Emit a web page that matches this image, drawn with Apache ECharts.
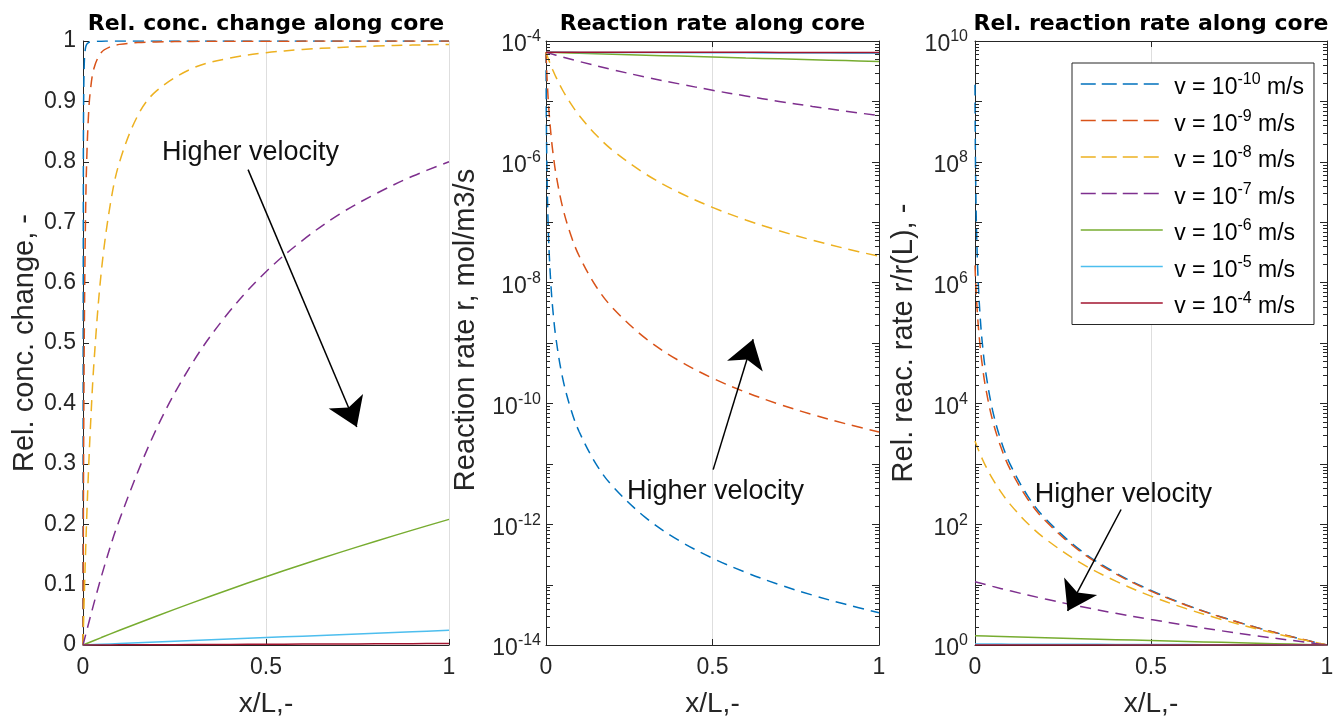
<!DOCTYPE html>
<html><head><meta charset="utf-8">
<script src="https://cdn.jsdelivr.net/npm/echarts@6/dist/echarts.min.js"></script>
<style>html,body{margin:0;padding:0;background:#fff}#c{width:1342px;height:723px}</style>
</head><body><div id="c"></div>
<script>
// ---------- data ----------
const seriesNames = ['v = 1e-10 m/s','v = 1e-9 m/s','v = 1e-8 m/s','v = 1e-7 m/s','v = 1e-6 m/s','v = 1e-5 m/s','v = 1e-4 m/s'];
const seriesExps = ['-10','-9','-8','-7','-6','-5','-4'];

const xFine = [0, 0.001, 0.002, 0.004, 0.007, 0.01, 0.015, 0.02, 0.03, 0.05, 0.075, 0.1, 0.15, 0.2, 0.3, 0.4, 0.5, 0.6, 0.7, 0.8, 0.9, 1];
const xCoarse = [0, 0.05, 0.1, 0.2, 0.3, 0.4, 0.5, 0.6, 0.7, 0.8, 0.9, 1];

// Panel 1: relative concentration change
const concV10 = [0, 0.8, 0.917, 0.972, 0.989, 0.9944, 0.9974, 0.9985, 0.9993, 0.9997, 0.9999, 0.99994, 0.99997, 0.99998, 0.99999, 1, 1, 1, 1, 1, 1, 1];
const concV9  = [0, 0.208, 0.357, 0.552, 0.7125, 0.8, 0.877, 0.917, 0.955, 0.981, 0.9905, 0.9944, 0.9974, 0.9985, 0.9993, 0.9996, 0.9997, 0.9998, 0.9999, 0.9999, 0.99992, 0.99994];
const concV8  = [0, 0.0243, 0.0477, 0.092, 0.153, 0.208, 0.288, 0.357, 0.468, 0.618, 0.731, 0.8, 0.877, 0.917, 0.955, 0.9717, 0.9806, 0.9859, 0.9893, 0.9916, 0.9932, 0.9944];
const concV7  = [0, 0.113, 0.208, 0.357, 0.468, 0.552, 0.618, 0.670, 0.713, 0.747, 0.776, 0.8];
const concV6  = [0, 0.0123, 0.0243, 0.0477, 0.0702, 0.092, 0.113, 0.1333, 0.1529, 0.1718, 0.1902, 0.208];
const concV5  = [0, 0.00124, 0.00247, 0.00494, 0.00738, 0.00984, 0.01225, 0.01467, 0.01708, 0.0195, 0.0219, 0.0243];
const concV4  = [0, 0.000124, 0.000247, 0.000494, 0.00074, 0.00099, 0.00124, 0.00148, 0.00173, 0.00197, 0.00222, 0.00247];

// Panel 2: reaction rate, mol/m3/s
const rateV10 = [6.5e-5, 5.81e-6, 1.55e-6, 3.10e-7, 7.23e-8, 2.73e-8, 8.71e-9, 3.82e-9, 1.18e-9, 2.62e-10, 7.9e-11, 3.36e-11, 1.0e-11, 4.25e-12, 1.27e-12, 5.35e-13, 2.74e-13, 1.59e-13, 1.0e-13, 6.7e-14, 4.71e-14, 3.43e-14];
const rateV9  = [6.5e-5, 4.58e-5, 3.35e-5, 1.95e-5, 1.0e-5, 5.81e-6, 2.8e-6, 1.55e-6, 6.23e-7, 1.76e-7, 6.0e-8, 2.73e-8, 8.71e-9, 3.82e-9, 1.18e-9, 5.07e-10, 2.62e-10, 1.53e-10, 9.7e-11, 6.52e-11, 4.6e-11, 3.36e-11];
const rateV8  = [6.5e-5, 6.26e-5, 6.04e-5, 5.62e-5, 5.07e-5, 4.58e-5, 3.9e-5, 3.35e-5, 2.52e-5, 1.53e-5, 9.08e-6, 5.81e-6, 2.8e-6, 1.55e-6, 6.23e-7, 3.1e-7, 1.76e-7, 1.09e-7, 7.23e-8, 5.04e-8, 3.65e-8, 2.73e-8];
const rateV7  = [6.5e-5, 5.43e-5, 4.58e-5, 3.35e-5, 2.52e-5, 1.95e-5, 1.53e-5, 1.23e-5, 1.0e-5, 8.26e-6, 6.9e-6, 5.81e-6];
const rateV6  = [6.5e-5, 6.38e-5, 6.26e-5, 6.04e-5, 5.83e-5, 5.62e-5, 5.43e-5, 5.24e-5, 5.07e-5, 4.9e-5, 4.74e-5, 4.58e-5];
const rateV5  = [6.5e-5, 6.49e-5, 6.48e-5, 6.45e-5, 6.43e-5, 6.41e-5, 6.38e-5, 6.36e-5, 6.33e-5, 6.31e-5, 6.29e-5, 6.26e-5];
const rateV4  = [6.5e-5, 6.5e-5, 6.5e-5, 6.49e-5, 6.49e-5, 6.49e-5, 6.49e-5, 6.49e-5, 6.48e-5, 6.48e-5, 6.48e-5, 6.48e-5];

// Panel 3: relative reaction rate r/r(L)
const relV10 = [1.89e9, 1.69e8, 4.52e7, 9.01e6, 2.1e6, 7.94e5, 2.54e5, 1.11e5, 3.43e4, 7643, 2301, 979, 292, 123.8, 36.8, 15.6, 7.98, 4.62, 2.91, 1.95, 1.37, 1];
const relV9  = [1.93e6, 1.36e6, 9.97e5, 5.8e5, 2.98e5, 1.73e5, 8.32e4, 4.62e4, 1.85e4, 5226, 1786, 811, 259, 113.7, 35.0, 15.1, 7.81, 4.56, 2.89, 1.94, 1.37, 1];
const relV8  = [2385, 2299, 2217, 2064, 1860, 1681, 1432, 1229, 926, 563, 333, 213, 102.6, 57.0, 22.8, 11.4, 6.44, 4.0, 2.65, 1.85, 1.34, 1];
const relV7  = [11.18, 9.34, 7.88, 5.76, 4.34, 3.35, 2.64, 2.12, 1.72, 1.42, 1.19, 1];
const relV6  = [1.418, 1.393, 1.367, 1.318, 1.272, 1.227, 1.185, 1.145, 1.106, 1.069, 1.034, 1];
const relV5  = [1.0375, 1.0357, 1.0338, 1.0301, 1.0263, 1.0226, 1.0189, 1.0151, 1.0113, 1.0076, 1.0038, 1];
const relV4  = [1.0037, 1.0035, 1.0033, 1.003, 1.0026, 1.0022, 1.0019, 1.0015, 1.0011, 1.0007, 1.0004, 1];

// Tick / axis texts
const titles = ['Rel. conc. change along core', 'Reaction rate along core', 'Rel. reaction rate along core'];
const yNames = ['Rel. conc. change, -', 'Reaction rate r, mol/m3/s', 'Rel. reac. rate r/r(L), -'];
const xName = 'x/L,-';
const logRange2 = [1e-14, 1e-4];
const logRange3 = [1e0, 1e10];
const minorMultipliers = [2, 3, 4, 5, 6, 7, 8, 9];

// Annotations (data coordinates of each panel)
const annText = 'Higher velocity';
const annText1 = [0.216, 0.815];
const annText2 = [0.243, 3.5e-12];
const annText3 = [0.170, 309];
const annArrow1 = [[0.451, 0.787], [0.748, 0.361]];
const annArrow2 = [[0.502, 8.0e-12], [0.622, 1.15e-9]];
const annArrow3 = [[0.415, 175], [0.263, 3.66]];

// ---------- styling ----------
const colors = ['#0072BD', '#D95319', '#EDB120', '#7E2F8E', '#77AC30', '#4DBEEE', '#A2142F'];
const dashed = [true, true, true, true, false, false, false];
const FONT = "'Liberation Sans', Arial, sans-serif";
const TFONT = "'DejaVu Sans', sans-serif";
const AX = '#262626';
const GRIDC = '#dedede';

const grids = [
  {left: 83, top: 41, width: 366, height: 610},
  {left: 546, top: 41, width: 333, height: 610},
  {left: 975, top: 41, width: 352, height: 610}
];

const richSup = {
  t: {fontSize: 23, color: AX, fontFamily: FONT, padding: [8, 0, 0, 0]},
  s: {fontSize: 16, color: AX, fontFamily: FONT, padding: [0, 0, 8, 0]}
};
function supLabel(v) {
  const e = Math.round(Math.log10(v));
  return '{t|10}{s|' + e + '}';
}

function bottomX(gi) {
  return {
    type: 'value', gridIndex: gi, position: 'bottom', min: 0, max: 1, interval: 0.5,
    axisLine: {show: true, onZero: false, lineStyle: {color: AX, width: 1}},
    axisTick: {show: true, inside: true, length: 6, lineStyle: {color: AX}},
    axisLabel: {fontSize: 23, color: AX, fontFamily: FONT, margin: 11},
    splitLine: {show: true, lineStyle: {color: GRIDC, width: 1}},
    name: xName, nameLocation: 'middle', nameGap: 45,
    nameTextStyle: {fontSize: 28, color: AX, fontFamily: FONT}
  };
}
function topX(gi, box) {
  return {
    type: 'value', gridIndex: gi, position: 'top', min: 0, max: 1, interval: 0.5,
    axisLine: {show: box, onZero: false, lineStyle: {color: AX, width: 1}},
    axisTick: {show: box, inside: true, length: 6, lineStyle: {color: AX}},
    axisLabel: {show: false}, splitLine: {show: false},
    name: titles[gi], nameLocation: 'middle', nameGap: 6,
    nameTextStyle: {fontSize: 22, fontWeight: 'bold', color: '#000', fontFamily: TFONT}
  };
}
function logY(gi, range, pos, gap, pad) {
  const left = pos === 'left';
  return {
    type: 'log', logBase: 10, gridIndex: gi, position: pos, min: range[0], max: range[1], interval: 2,
    axisLine: {show: true, onZero: false, lineStyle: {color: AX, width: 1}},
    axisTick: {show: true, inside: true, length: 7, lineStyle: {color: AX}},
    axisLabel: left ? {formatter: supLabel, rich: richSup, margin: gi === 1 ? 5 : 7} : {show: false},
    splitLine: {show: false},
    name: left ? yNames[gi] : '', nameLocation: 'middle', nameGap: gap,
    nameTextStyle: {fontSize: 29, color: AX, fontFamily: FONT, padding: pad}
  };
}

const xAxis = [bottomX(0), topX(0, false), bottomX(1), topX(1, true), bottomX(2), topX(2, true)];
const yAxis = [
  {
    type: 'value', gridIndex: 0, position: 'left', min: 0, max: 1, interval: 0.1,
    axisLine: {show: true, onZero: false, lineStyle: {color: AX, width: 1}},
    axisTick: {show: true, inside: true, length: 6, lineStyle: {color: AX}},
    axisLabel: {fontSize: 23, color: AX, fontFamily: FONT, margin: 7},
    splitLine: {show: false},
    name: yNames[0], nameLocation: 'middle', nameGap: 44,
    nameTextStyle: {fontSize: 29, color: AX, fontFamily: FONT}
  },
  logY(1, logRange2, 'left', 66, [0, 0, 0, 26]),
  logY(1, logRange2, 'right', 0, 0),
  logY(2, logRange3, 'left', 57, 0),
  logY(2, logRange3, 'right', 0, 0)
];

function mkLine(xs, ys, k, xi, yi) {
  return {
    type: 'line', name: seriesNames[k], xAxisIndex: xi, yAxisIndex: yi,
    data: xs.map((x, i) => [x, ys[i]]),
    symbol: 'none', smooth: 0.35, silent: true,
    lineStyle: {color: colors[k], width: 1.5, type: dashed[k] ? [11, 7] : 'solid'},
    itemStyle: {color: colors[k]}, z: 2
  };
}

const series = [];
const p1 = [concV10, concV9, concV8, concV7, concV6, concV5, concV4];
const p2 = [rateV10, rateV9, rateV8, rateV7, rateV6, rateV5, rateV4];
const p3 = [relV10, relV9, relV8, relV7, relV6, relV5, relV4];
for (let k = 0; k < 7; k++) series.push(mkLine(k < 3 ? xFine : xCoarse, p1[k], k, 0, 0));
for (let k = 0; k < 7; k++) series.push(mkLine(k < 3 ? xFine : xCoarse, p2[k], k, 2, 1));
for (let k = 0; k < 7; k++) series.push(mkLine(k < 3 ? xFine : xCoarse, p3[k], k, 4, 3));

// annotation helper series (arrows + text) drawn through the axes
function annSeries(xi, yi, textPos, arrow) {
  return {
    type: 'line', xAxisIndex: xi, yAxisIndex: yi, data: [], silent: true, z: 5,
    markLine: {
      silent: true, animation: false, symbol: ['none', 'arrow'], symbolSize: 28,
      label: {show: false}, lineStyle: {color: '#000', width: 1.5, type: 'solid'},
      itemStyle: {color: '#000'},
      emphasis: {disabled: true},
      data: [[{coord: arrow[0]}, {coord: arrow[1]}]]
    },
    markPoint: {
      silent: true, animation: false, symbol: 'circle', symbolSize: 0,
      label: {show: true, position: 'right', distance: 0, formatter: annText, fontSize: 27, color: '#111', fontFamily: FONT},
      data: [{coord: textPos}]
    }
  };
}
series.push(annSeries(0, 0, annText1, annArrow1));
series.push(annSeries(2, 1, annText2, annArrow2));
series.push(annSeries(4, 3, annText3, annArrow3));

// minor log ticks (left and right edges)
function minorData(range) {
  const out = [];
  const e0 = Math.round(Math.log10(range[0])), e1 = Math.round(Math.log10(range[1]));
  for (let e = e0; e < e1; e++) {
    if ((e - e0) % 2 === 1) out.push([0, Math.pow(10, e), 7]);
    minorMultipliers.forEach(m => out.push([0, m * Math.pow(10, e), 4]));
  }
  return out;
}
function tickSeries(xi, yi, range) {
  return {
    type: 'custom', xAxisIndex: xi, yAxisIndex: yi, silent: true, z: 4, clip: false,
    data: minorData(range),
    renderItem: function (params, api) {
      const v = api.value(1), len = api.value(2);
      const pL = api.coord([0, v]);
      const pR = api.coord([1, v]);
      const y = Math.round(pL[1]) + 0.5;
      return {type: 'group', children: [
        {type: 'line', shape: {x1: pL[0], y1: y, x2: pL[0] + len, y2: y}, style: {stroke: AX, lineWidth: 1}},
        {type: 'line', shape: {x1: pR[0], y1: y, x2: pR[0] - len, y2: y}, style: {stroke: AX, lineWidth: 1}}
      ]};
    }
  };
}
series.push(tickSeries(2, 1, logRange2));
series.push(tickSeries(4, 3, logRange3));

const expOf = {};
seriesNames.forEach((n, i) => expOf[n] = seriesExps[i]);
const legendData = seriesNames.map((n, k) => ({
  name: n,
  lineStyle: {type: dashed[k] ? [15, 6] : 'solid', width: 1.5}
}));

const chart = echarts.init(document.getElementById('c'), null, {renderer: 'canvas'});
chart.setOption({
  animation: false,
  backgroundColor: '#fff',
  textStyle: {fontFamily: FONT},
  grid: grids,
  xAxis: xAxis,
  yAxis: yAxis,
  legend: {
    data: legendData, orient: 'vertical', left: 1072, top: 63,
    itemWidth: 82, itemHeight: 14, itemGap: 9, padding: [9, 10, 6, 8],
    itemStyle: {opacity: 0},
    borderColor: AX, borderWidth: 1, backgroundColor: '#fff', selectedMode: false, z: 10,
    formatter: function (name) { return '{t| v = 10}{s|' + expOf[name] + '}{t| m/s}'; },
    textStyle: {rich: {
      t: {fontSize: 23, color: '#000', fontFamily: FONT, padding: [8, 0, 0, 0]},
      s: {fontSize: 16, color: '#000', fontFamily: FONT, padding: [0, 0, 8, 0]}
    }}
  },
  series: series
});
</script></body></html>
